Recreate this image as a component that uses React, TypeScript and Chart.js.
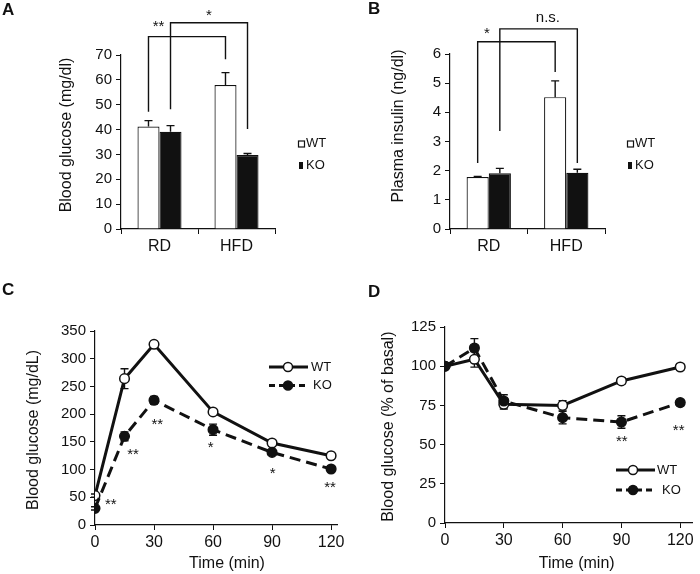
import React, { useEffect, useRef } from 'react';
import { Chart, registerables } from 'chart.js';

Chart.register(...registerables);

const FONT = "'Liberation Sans', Arial, Helvetica, sans-serif";
const INK = '#111111';

// ---------- shared ----------
const dietGroups = ['RD', 'HFD'];
const seriesLabels = ['WT', 'KO'];

// ---------- Panel A: blood glucose (bars) ----------
const bgWT = [41.2, 57.9];
const bgWTErr = [2.4, 5.0];
const bgKO = [39.1, 29.8];
const bgKOErr = [2.5, 0.6];
const bgTicks = [0, 10, 20, 30, 40, 50, 60, 70];
const bgBracketLabels = ['**', '*'];
const bgBracketSeries = [0, 1];
const bgBracketStart = [47.2, 48.2];
const bgBracketTop = [77.4, 83.0];
const bgBracketEnd = [68.3, 40.2];
const bgBracketLabelY = [81.5, 85.7];

// ---------- Panel B: plasma insulin (bars) ----------
const insWT = [1.78, 4.52];
const insWTErr = [0.02, 0.56];
const insKO = [1.91, 1.93];
const insKOErr = [0.17, 0.12];
const insTicks = [0, 1, 2, 3, 4, 5, 6];
const insBracketLabels = ['*', 'n.s.'];
const insBracketSeries = [0, 1];
const insBracketStart = [2.26, 3.36];
const insBracketTop = [6.42, 6.86];
const insBracketEnd = [5.38, 2.26];
const insBracketLabelY = [6.69, 7.25];

// ---------- Panel C: glucose tolerance (lines) ----------
const timeMin = [0, 15, 30, 60, 90, 120];
const timeTicks = [0, 30, 60, 90, 120];
const ogttWT = [53, 264, 326, 204, 148, 125];
const ogttWTErr = [3, 18, 5, 3, 3, 2];
const ogttKO = [30, 160, 225, 172, 131, 101];
const ogttKOErr = [3, 8, 7, 10, 4, 3];
const ogttTicks = [0, 50, 100, 150, 200, 250, 300, 350];
const ogttStarT = [8, 19.3, 31.7, 58.8, 90.3, 119.5];
const ogttStarY = [36, 126, 180, 139, 92, 67];
const ogttStarLabels = ['**', '**', '**', '*', '*', '**'];

// ---------- Panel D: insulin tolerance (lines) ----------
const ittWT = [100, 104.4, 75.7, 75, 90.6, 99.5];
const ittWTErr = [0, 5, 3, 3, 2, 2];
const ittKO = [100, 111.6, 77.8, 67.2, 64.4, 76.8];
const ittKOErr = [0, 6, 4, 4, 4, 2];
const ittTicks = [0, 25, 50, 75, 100, 125];
const ittStarT = [90.2, 119.2];
const ittStarY = [51.6, 59];
const ittStarLabels = ['**', '**'];

type Decor = {
  letter: { text: string; x: number; y: number };
  titles: { text: string; x: number; y: number; rotate?: boolean }[];
  legend:
    | { kind: 'bar'; boxX: number; textX: number; ys: number[] }
    | { kind: 'line'; x0: number; x1: number; dotX: number; textXs: number[]; ys: number[] };
  errorMode: 'up' | 'both';
  brackets?: { label: string; ds: number; start: number; top: number; end: number; labelY: number; labelAt: number }[];
  stars?: { label: string; t: number; v: number }[];
};

function makeDecor(d: Decor) {
  const drawErrors = (chart: any) => {
    const ctx = chart.ctx as CanvasRenderingContext2D;
    const ys = chart.scales.y;
    ctx.save();
    ctx.strokeStyle = INK;
    ctx.lineWidth = 1.4;
    ctx.setLineDash([]);
    chart.data.datasets.forEach((ds: any, di: number) => {
      const meta = chart.getDatasetMeta(di);
      meta.data.forEach((el: any, i: number) => {
        const err = ds.errors ? ds.errors[i] : 0;
        if (!err) return;
        const raw = ds.data[i];
        const v = typeof raw === 'number' ? raw : raw.y;
        const yTop = ys.getPixelForValue(v + err);
        const yBot = d.errorMode === 'up' ? el.y : ys.getPixelForValue(v - err);
        const cap = 4;
        ctx.beginPath();
        ctx.moveTo(el.x, yBot);
        ctx.lineTo(el.x, yTop);
        ctx.moveTo(el.x - cap, yTop);
        ctx.lineTo(el.x + cap, yTop);
        if (d.errorMode === 'both') {
          ctx.moveTo(el.x - cap, yBot);
          ctx.lineTo(el.x + cap, yBot);
        }
        ctx.stroke();
      });
    });
    ctx.restore();
  };
  return {
    id: 'decor',
    beforeDatasetsDraw(chart: any) {
      if (d.errorMode === 'both') drawErrors(chart);
    },
    afterDatasetsDraw(chart: any) {
      if (d.errorMode === 'up') drawErrors(chart);
    },
    afterDraw(chart: any) {
      const ctx = chart.ctx as CanvasRenderingContext2D;
      ctx.save();
      ctx.fillStyle = INK;
      ctx.strokeStyle = INK;
      // panel letter
      ctx.font = `bold 17px ${FONT}`;
      ctx.textAlign = 'left';
      ctx.textBaseline = 'alphabetic';
      ctx.fillText(d.letter.text, d.letter.x, d.letter.y);
      // axis titles
      ctx.font = `16px ${FONT}`;
      ctx.textAlign = 'center';
      ctx.textBaseline = 'middle';
      d.titles.forEach((t) => {
        ctx.save();
        ctx.translate(t.x, t.y);
        if (t.rotate) ctx.rotate(-Math.PI / 2);
        ctx.fillText(t.text, 0, 0);
        ctx.restore();
      });
      // legend
      ctx.font = `13px ${FONT}`;
      ctx.textAlign = 'left';
      ctx.textBaseline = 'middle';
      const lg = d.legend;
      chart.data.datasets.forEach((ds: any, i: number) => {
        const y = lg.ys[i];
        if (lg.kind === 'bar') {
          ctx.lineWidth = 1.2;
          if (i === 0) {
            ctx.fillStyle = '#fff';
            ctx.fillRect(lg.boxX, y - 3, 7, 6);
            ctx.strokeRect(lg.boxX + 0.5, y - 3 + 0.5, 6, 6);
          } else {
            ctx.fillStyle = INK;
            ctx.fillRect(lg.boxX + 1, y - 3.5, 4, 7);
          }
          ctx.fillStyle = INK;
          ctx.fillText(ds.label, lg.textX, y);
        } else {
          ctx.lineWidth = 3;
          ctx.setLineDash(i === 0 ? [] : [6, 4]);
          ctx.beginPath();
          ctx.moveTo(lg.x0, y);
          ctx.lineTo(lg.x1, y);
          ctx.stroke();
          ctx.setLineDash([]);
          ctx.beginPath();
          ctx.arc(lg.dotX, y, 4.5, 0, Math.PI * 2);
          ctx.fillStyle = i === 0 ? '#fff' : INK;
          ctx.fill();
          ctx.lineWidth = 1.5;
          ctx.stroke();
          ctx.fillStyle = INK;
          ctx.fillText(ds.label, lg.textXs[i], y);
        }
      });
      // brackets
      if (d.brackets) {
        const ys = chart.scales.y;
        ctx.lineWidth = 1.4;
        ctx.font = `15px ${FONT}`;
        ctx.textAlign = 'center';
        d.brackets.forEach((b) => {
          const meta = chart.getDatasetMeta(b.ds);
          const x1 = meta.data[0].x;
          const x2 = meta.data[1].x;
          const yt = ys.getPixelForValue(b.top);
          ctx.beginPath();
          ctx.moveTo(x1, ys.getPixelForValue(b.start));
          ctx.lineTo(x1, yt);
          ctx.lineTo(x2, yt);
          ctx.lineTo(x2, ys.getPixelForValue(b.end));
          ctx.stroke();
          ctx.fillText(b.label, x1 + (x2 - x1) * b.labelAt, ys.getPixelForValue(b.labelY));
        });
      }
      // stars
      if (d.stars) {
        ctx.font = `15px ${FONT}`;
        ctx.textAlign = 'center';
        ctx.textBaseline = 'middle';
        d.stars.forEach((s) => {
          ctx.fillText(s.label, chart.scales.x.getPixelForValue(s.t), chart.scales.y.getPixelForValue(s.v));
        });
      }
      ctx.restore();
    },
  };
}

const axisGrid = { drawOnChartArea: false, drawTicks: true, tickLength: 5, color: INK, lineWidth: 1 };
const axisBorder = { display: true, color: INK, width: 1.2 };

function barConfig(o: {
  wt: number[]; wtErr: number[]; ko: number[]; koErr: number[]; ticks: number[];
  pad: { left: number; top: number; right: number }; yWidth: number; xHeight: number; decor: Decor;
}): any {
  return {
    type: 'bar',
    data: {
      labels: dietGroups,
      datasets: [
        { label: seriesLabels[0], data: o.wt, errors: o.wtErr, backgroundColor: '#ffffff', borderColor: INK, borderWidth: 1.2, categoryPercentage: 0.572, barPercentage: 1 },
        { label: seriesLabels[1], data: o.ko, errors: o.koErr, backgroundColor: INK, borderColor: INK, borderWidth: 1.2, categoryPercentage: 0.572, barPercentage: 1 },
      ],
    },
    options: {
      responsive: false,
      animation: false,
      devicePixelRatio: 1,
      events: [],
      layout: { padding: { ...o.pad, bottom: 0 } },
      plugins: { legend: { display: false }, tooltip: { enabled: false } },
      scales: {
        x: {
          type: 'category',
          offset: true,
          grid: { ...axisGrid, offset: true },
          border: axisBorder,
          ticks: { color: INK, font: { family: FONT, size: 16 }, padding: 3, maxRotation: 0 },
          afterFit: (s: any) => { s.height = o.xHeight; },
        },
        y: {
          min: o.ticks[0],
          max: o.ticks[o.ticks.length - 1],
          grid: axisGrid,
          border: axisBorder,
          ticks: { color: INK, font: { family: FONT, size: 15 }, padding: 4 },
          afterBuildTicks: (s: any) => { s.ticks = o.ticks.map((v) => ({ value: v })); },
          afterFit: (s: any) => { s.width = o.yWidth; },
        },
      },
    },
    plugins: [makeDecor(o.decor)],
  };
}

function lineConfig(o: {
  wt: number[]; wtErr: number[]; ko: number[]; koErr: number[]; ticks: number[]; xMax: number;
  pad: { left: number; top: number; right: number }; yWidth: number; xHeight: number; decor: Decor;
}): any {
  return {
    type: 'line',
    data: {
      datasets: [
        {
          label: seriesLabels[0], order: 1,
          data: timeMin.map((t, i) => ({ x: t, y: o.wt[i] })), errors: o.wtErr,
          borderColor: INK, borderWidth: 3, tension: 0, fill: false,
          pointRadius: 4.8, pointBackgroundColor: '#ffffff', pointBorderColor: INK, pointBorderWidth: 1.5,
        },
        {
          label: seriesLabels[1], order: 0,
          data: timeMin.map((t, i) => ({ x: t, y: o.ko[i] })), errors: o.koErr,
          borderColor: INK, borderWidth: 3, borderDash: [11, 6], tension: 0, fill: false,
          pointRadius: 4.8, pointBackgroundColor: INK, pointBorderColor: INK, pointBorderWidth: 1.5,
        },
      ],
    },
    options: {
      responsive: false,
      animation: false,
      devicePixelRatio: 1,
      events: [],
      layout: { padding: { ...o.pad, bottom: 0 } },
      plugins: { legend: { display: false }, tooltip: { enabled: false } },
      scales: {
        x: {
          type: 'linear',
          min: 0,
          max: o.xMax,
          grid: axisGrid,
          border: axisBorder,
          ticks: { color: INK, font: { family: FONT, size: 16 }, padding: 3, maxRotation: 0 },
          afterBuildTicks: (s: any) => { s.ticks = timeTicks.map((v) => ({ value: v })); },
          afterFit: (s: any) => { s.height = o.xHeight; },
        },
        y: {
          min: o.ticks[0],
          max: o.ticks[o.ticks.length - 1],
          grid: axisGrid,
          border: axisBorder,
          ticks: { color: INK, font: { family: FONT, size: 15 }, padding: 4 },
          afterBuildTicks: (s: any) => { s.ticks = o.ticks.map((v) => ({ value: v })); },
          afterFit: (s: any) => { s.width = o.yWidth; },
        },
      },
    },
    plugins: [makeDecor(o.decor)],
  };
}

const configA = () =>
  barConfig({
    wt: bgWT, wtErr: bgWTErr, ko: bgKO, koErr: bgKOErr, ticks: bgTicks,
    pad: { left: 81, top: 55, right: 75 }, yWidth: 40, xHeight: 51,
    decor: {
      letter: { text: 'A', x: 2, y: 15 },
      titles: [{ text: 'Blood glucose (mg/dl)', x: 67, y: 135, rotate: true }],
      legend: { kind: 'bar', boxX: 298, textX: 306, ys: [143.5, 165.5] },
      errorMode: 'up',
      brackets: bgBracketLabels.map((label, i) => ({
        label, ds: bgBracketSeries[i], start: bgBracketStart[i], top: bgBracketTop[i],
        end: bgBracketEnd[i], labelY: bgBracketLabelY[i], labelAt: i === 0 ? 0.13 : 0.5,
      })),
    },
  });

const configB = () =>
  barConfig({
    wt: insWT, wtErr: insWTErr, ko: insKO, koErr: insKOErr, ticks: insTicks,
    pad: { left: 60, top: 54, right: 95 }, yWidth: 40, xHeight: 51,
    decor: {
      letter: { text: 'B', x: 18, y: 13.5 },
      titles: [{ text: 'Plasma insulin (ng/dl)', x: 49, y: 126, rotate: true }],
      legend: { kind: 'bar', boxX: 277, textX: 285, ys: [143.5, 165.5] },
      errorMode: 'up',
      brackets: insBracketLabels.map((label, i) => ({
        label, ds: insBracketSeries[i], start: insBracketStart[i], top: insBracketTop[i],
        end: insBracketEnd[i], labelY: insBracketLabelY[i], labelAt: i === 0 ? 0.12 : 0.62,
      })),
    },
  });

const configC = () =>
  lineConfig({
    wt: ogttWT, wtErr: ogttWTErr, ko: ogttKO, koErr: ogttKOErr, ticks: ogttTicks, xMax: 123,
    pad: { left: 55, top: 51, right: 13 }, yWidth: 40, xHeight: 49,
    decor: {
      letter: { text: 'C', x: 2, y: 15 },
      titles: [
        { text: 'Blood glucose (mg/dL)', x: 34, y: 150, rotate: true },
        { text: 'Time (min)', x: 227, y: 284 },
      ],
      legend: { kind: 'line', x0: 269, x1: 308, dotX: 288, textXs: [311, 313], ys: [87, 105.5] },
      errorMode: 'both',
      stars: ogttStarLabels.map((label, i) => ({ label, t: ogttStarT[i], v: ogttStarY[i] })),
    },
  });

const configD = () =>
  lineConfig({
    wt: ittWT, wtErr: ittWTErr, ko: ittKO, koErr: ittKOErr, ticks: ittTicks, xMax: 126,
    pad: { left: 55, top: 47, right: 8 }, yWidth: 40, xHeight: 51,
    decor: {
      letter: { text: 'D', x: 18, y: 16.7 },
      titles: [
        { text: 'Blood glucose (% of basal)', x: 39, y: 146.7, rotate: true },
        { text: 'Time (min)', x: 226.7, y: 284 },
      ],
      legend: { kind: 'line', x0: 266, x1: 305, dotX: 283, textXs: [307, 312], ys: [190, 210] },
      errorMode: 'both',
      stars: ittStarLabels.map((label, i) => ({ label, t: ittStarT[i], v: ittStarY[i] })),
    },
  });

function ChartCanvas(props: { left: number; top: number; width: number; height: number; make: () => any }) {
  const ref = useRef<HTMLCanvasElement | null>(null);
  useEffect(() => {
    if (!ref.current) return;
    const chart = new Chart(ref.current, props.make());
    return () => chart.destroy();
  }, []);
  return (
    <div style={{ position: 'absolute', left: props.left, top: props.top, width: props.width, height: props.height }}>
      <canvas ref={ref} width={props.width} height={props.height} style={{ display: 'block', width: props.width, height: props.height }} />
    </div>
  );
}

export default function App() {
  return (
    <div style={{ position: 'absolute', left: 0, top: 0, width: 700, height: 574, background: '#ffffff', overflow: 'hidden' }}>
      <ChartCanvas left={0} top={0} width={350} height={280} make={configA} />
      <ChartCanvas left={350} top={0} width={350} height={280} make={configB} />
      <ChartCanvas left={0} top={280} width={350} height={294} make={configC} />
      <ChartCanvas left={350} top={280} width={350} height={294} make={configD} />
    </div>
  );
}
